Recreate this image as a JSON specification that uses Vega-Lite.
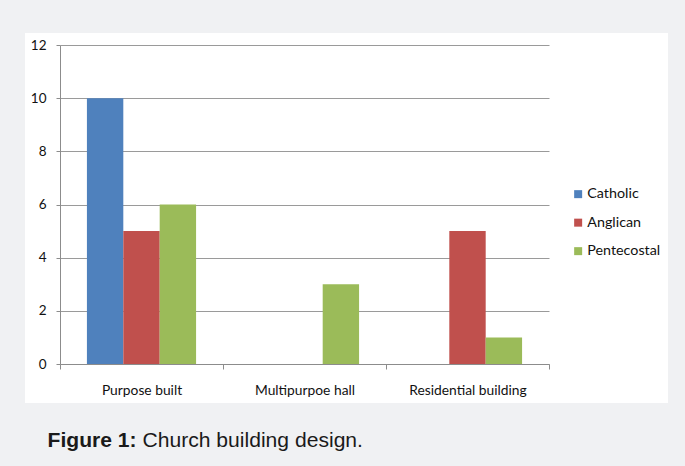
{
  "$schema": "https://vega.github.io/schema/vega-lite/v6.json",
  "autosize": "none",
  "width": 643,
  "height": 370,
  "padding": {"left": 25, "top": 33, "right": 17, "bottom": 63},
  "background": "#f0f1f3",
  "data": {
    "values": [
      {"design": "Purpose built", "church": "Catholic", "count": 10},
      {"design": "Purpose built", "church": "Anglican", "count": 5},
      {"design": "Purpose built", "church": "Pentecostal", "count": 6},
      {"design": "Multipurpoe hall", "church": "Catholic", "count": 0},
      {"design": "Multipurpoe hall", "church": "Anglican", "count": 0},
      {"design": "Multipurpoe hall", "church": "Pentecostal", "count": 3},
      {"design": "Residential building", "church": "Catholic", "count": 0},
      {"design": "Residential building", "church": "Anglican", "count": 5},
      {"design": "Residential building", "church": "Pentecostal", "count": 1}
    ]
  },
  "mark": {"type": "bar"},
  "encoding": {
    "x": {
      "field": "design",
      "type": "nominal",
      "sort": ["Purpose built", "Multipurpoe hall", "Residential building"],
      "scale": {"range": [35, 524], "paddingInner": 0, "paddingOuter": 0},
      "axis": {
        "title": "Church building design.",
        "titleX": 117,
        "titleY": 82,
        "titleAlign": "left",
        "titleBaseline": "alphabetic",
        "titleAnchor": null,
        "titleFont": "Liberation Sans",
        "titleFontSize": 21.1,
        "titleFontWeight": "normal",
        "titleColor": "#1a1a1a",
        "labelAngle": 0,
        "labelFont": "Lato",
        "labelFontSize": 13.8,
        "labelColor": "#111111",
        "labelBaseline": "alphabetic",
        "labelPadding": 25,
        "tickBand": "extent",
        "tickSize": 5,
        "tickColor": "#8c8c8c",
        "domainColor": "#8c8c8c",
        "grid": false,
        "offset": -39
      }
    },
    "xOffset": {
      "field": "church",
      "type": "nominal",
      "sort": ["Catholic", "Anglican", "Pentecostal"],
      "scale": {"paddingInner": 0, "paddingOuter": 0.74}
    },
    "y": {
      "field": "count",
      "type": "quantitative",
      "scale": {"domain": [0, 12], "range": [331, 12], "nice": false},
      "axis": {
        "values": [0, 2, 4, 6, 8, 10, 12],
        "title": "Figure 1:",
        "titleAngle": 0,
        "titleX": -13,
        "titleY": 413,
        "titleAlign": "left",
        "titleBaseline": "alphabetic",
        "titleAnchor": null,
        "titleFont": "Liberation Sans",
        "titleFontSize": 21.1,
        "titleFontWeight": "bold",
        "titleColor": "#1a1a1a",
        "labelFont": "Lato",
        "labelFontSize": 13.5,
        "labelColor": "#111111",
        "labelPadding": 10,
        "tickSize": 4,
        "tickColor": "#8c8c8c",
        "domainColor": "#8c8c8c",
        "gridColor": "#9a9a9a",
        "offset": -35
      }
    },
    "color": {
      "field": "church",
      "type": "nominal",
      "scale": {
        "domain": ["Catholic", "Anglican", "Pentecostal"],
        "range": ["#4f81bd", "#c0504d", "#9bbb59"]
      },
      "legend": {
        "title": null,
        "orient": "none",
        "legendX": 546,
        "legendY": 154,
        "symbolType": "square",
        "symbolSize": 64,
        "symbolStrokeWidth": 0,
        "labelFont": "Lato",
        "labelFontSize": 14.3,
        "labelColor": "#111111",
        "labelOffset": 2,
        "rowPadding": 13.5,
        "padding": 0
      }
    }
  },
  "config": {
    "view": {"fill": "white", "stroke": null},
    "axis": {"gridWidth": 1, "domainWidth": 1, "tickWidth": 1}
  }
}
